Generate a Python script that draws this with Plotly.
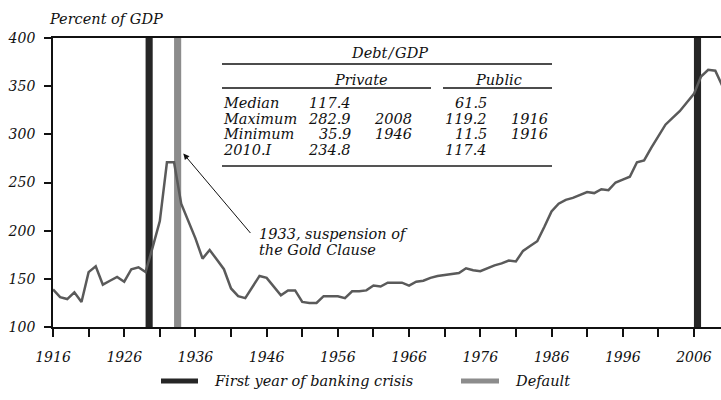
import plotly.graph_objects as go

# private debt / GDP, annual
years = list(range(1916, 2011))
debt = [139, 131, 129, 136, 126, 157, 163, 144, 148, 152,
        147, 160, 162, 157, 183, 210, 271, 271, 228, 210,
        192, 171, 180, 170, 160, 140, 132, 130, 141, 153,
        151, 142, 133, 138, 138, 126, 125, 125, 132, 132,
        132, 130, 137, 137, 138, 143, 142, 146, 146, 146,
        143, 147, 148, 151, 153, 154, 155, 156, 161, 159,
        158, 161, 164, 166, 169, 168, 179, 184, 189, 204,
        220, 228, 232, 234, 237, 240, 239, 243, 242, 250,
        253, 256, 271, 273, 286, 298, 310, 317, 324, 333,
        342, 360, 367, 366, 350]

crisis_years = [1929, 2006]
default_years = [1933]

table_rows = ["Median", "Maximum", "Minimum", "2010.I"]
private_vals = ["117.4", "282.9", "35.9", "234.8"]
private_years = ["", "2008", "1946", ""]
public_vals = ["61.5", "119.2", "11.5", "117.4"]
public_years = ["", "1916", "1916", ""]

FONT = "DejaVu Serif"
W, H = 721, 400
L, R, T, B = 53, 0, 38, 73
pw, ph = W - L - R, H - T - B


def px(x):
    return (x - L) / pw


def py(y):
    return (H - B - y) / ph


fig = go.Figure()

for yr in crisis_years:
    fig.add_shape(type="rect", xref="x", yref="y", x0=yr, x1=yr + 1, y0=100, y1=400,
                  fillcolor="#262626", line_width=0, layer="below")
for yr in default_years:
    fig.add_shape(type="rect", xref="x", yref="y", x0=yr, x1=yr + 1, y0=100, y1=400,
                  fillcolor="#8c8c8c", line_width=0, layer="below")

fig.add_trace(go.Scatter(x=years, y=debt, mode="lines",
                         line=dict(color="#5a5a5a", width=2.5), showlegend=False,
                         hoverinfo="skip"))

ann = []


def txt(x, y, s, anchor="left", size=14.5):
    ann.append(dict(x=px(x), y=py(y), xref="paper", yref="paper", text=s,
                    showarrow=False, xanchor=anchor, yanchor="middle",
                    font=dict(family=FONT, size=size, color="#111", style="italic")))


txt(47, 19, "Percent of GDP")

# table
txt(389, 53, "Debt\u200a/\u200aGDP", "center")
txt(361, 80, "Private", "center")
txt(498, 80, "Public", "center")
row_y = [103, 118.5, 134, 149.5]
for i, ry in enumerate(row_y):
    txt(221, ry, table_rows[i])
    txt(353, ry, private_vals[i], "right")
    txt(414, ry, private_years[i], "right")
    txt(489, ry, public_vals[i], "right")
    txt(550, ry, public_years[i], "right")

rules = [(222, 552, 64, "#111", 1.6), (222, 431, 88, "#111", 1.6),
         (443, 552, 88, "#111", 1.6), (222, 552, 166, "#555", 2)]
for x0, x1, yy, c, w in rules:
    fig.add_shape(type="line", xref="paper", yref="paper", x0=px(x0), x1=px(x1),
                  y0=py(yy), y1=py(yy), line=dict(color=c, width=w))

# arrow annotation
ann.append(dict(x=1934.3, y=280, xref="x", yref="y", ax=1943.9, ay=196,
                axref="x", ayref="y", text="", showarrow=True, arrowhead=2,
                arrowsize=1.2, arrowwidth=1, arrowcolor="#111"))
txt(257, 234, "1933, suspension of")
txt(257, 250, "the Gold Clause")

# legend
for x0, x1, c in [(161, 198, "#262626"), (461, 499, "#8c8c8c")]:
    fig.add_shape(type="line", xref="paper", yref="paper", x0=px(x0), x1=px(x1),
                  y0=py(381), y1=py(381), line=dict(color=c, width=5))
txt(212, 381, "First year of banking crisis")
txt(513, 381, "Default")

fig.update_layout(
    width=W, height=H, margin=dict(l=L, r=R, t=T, b=B),
    plot_bgcolor="white", paper_bgcolor="white",
    annotations=ann,
    xaxis=dict(range=[1916, 2009.8], tick0=1916, dtick=10, ticks="outside",
               ticklen=8, tickwidth=1.5, tickcolor="#111",
               showline=True, linecolor="#111", linewidth=1.8, mirror=True,
               showgrid=False, zeroline=False, ticklabelstandoff=8,
               minor=dict(dtick=5, tick0=1916, ticks="outside", ticklen=8,
                          tickwidth=1.5, tickcolor="#111"),
               tickfont=dict(family=FONT, size=14, color="#111", style="italic")),
    yaxis=dict(range=[100, 400], dtick=50, ticks="outside", ticklen=7,
               tickwidth=1.5, tickcolor="#111",
               showline=True, linecolor="#111", linewidth=1.8,
               showgrid=False, zeroline=False, ticklabelstandoff=6,
               tickfont=dict(family=FONT, size=14, color="#111", style="italic")),
)

fig.write_html("out.html", config={"displayModeBar": False},
               post_script="document.body.style.margin='0';")
